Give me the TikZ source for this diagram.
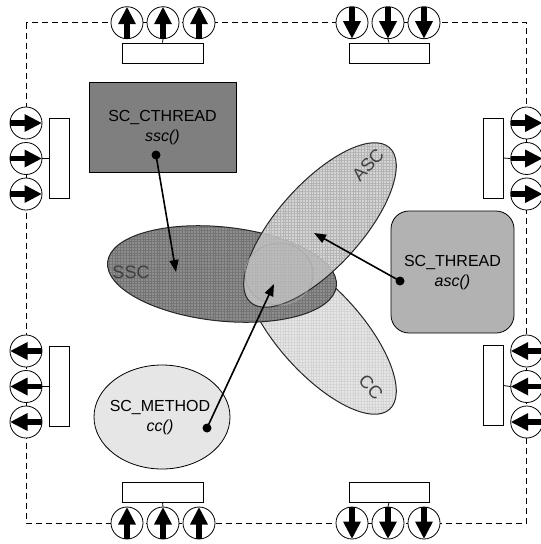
\documentclass[tikz,border=0pt]{standalone}
\usepackage{fontspec}
\setmainfont{Liberation Sans}
\usetikzlibrary{arrows.meta,patterns.meta,shapes.geometric}
\definecolor{cthreadfill}{HTML}{7F7F7F}
\definecolor{threadfill}{HTML}{B2B2B2}
\definecolor{methodfill}{HTML}{E6E6E6}
\definecolor{sscfill}{HTML}{8E8E8E}
\definecolor{sscpat}{HTML}{747474}
\definecolor{ascfill}{HTML}{CACACA}
\definecolor{ascpat}{HTML}{B4B4B4}
\definecolor{ccfill}{HTML}{E6E6E6}
\definecolor{ccpat}{HTML}{D4D4D4}
\definecolor{setlabel}{HTML}{404040}
\newcommand\mkport[4]{%
  \node[portcirc] (#1) at (#2,#3) {};
  \begin{scope}[shift={(#2,#3)},rotate=#4]
    \fill (-2.6,15.8) rectangle (2.6,0);
    \fill (-9,1.5) -- (9,1.5) -- (0,-15.6) -- cycle;
  \end{scope}}
\tikzset{
  portcirc/.style={circle,draw,fill=white,line width=0.8pt,minimum size=32pt,inner sep=0pt},
  portbox/.style={draw,fill=white,line width=0.8pt,inner sep=0pt},
  lbl/.style={font=\fontsize{16}{19.5}\selectfont,align=center,text=black},
  setlbl/.style={font=\fontsize{18}{20}\selectfont,text=setlabel},
  conn/.style={line width=1.6pt,-{Triangle[length=12pt,width=9pt]}},
  grid pat/.style={pattern={Hatch[angle=0,distance=2.8pt,line width=0.3pt]}}
}
\begin{document}
\begin{tikzpicture}[x=1pt,y=-1pt]
\useasboundingbox (0,0) rectangle (541,544);
% border
\draw[line width=0.8pt,dash pattern=on 6pt off 4pt] (26,22.7) rectangle (526.7,523);

% ---- set ellipses ----
\fill[ccfill] (320,332) ellipse[x radius=104,y radius=42,rotate=-48];
\path[grid pat,pattern color=ccpat] (320,332) ellipse[x radius=104,y radius=42,rotate=-48];
\draw[line width=1pt,black!85] (320,332) ellipse[x radius=104,y radius=42,rotate=-48];

\fill[sscfill] (222,274) ellipse[x radius=115,y radius=47,rotate=-6];
\path[grid pat,pattern color=sscpat] (222,274) ellipse[x radius=115,y radius=47,rotate=-6];
\draw[line width=1pt,black!85] (222,274) ellipse[x radius=115,y radius=47,rotate=-6];

\fill[ascfill,fill opacity=0.8] (320,225) ellipse[x radius=104,y radius=42,rotate=48];
\path[grid pat,pattern color=ascpat,fill opacity=0.8] (320,225) ellipse[x radius=104,y radius=42,rotate=48];
\draw[line width=1pt,black!85] (320,225) ellipse[x radius=104,y radius=42,rotate=48];

% inner faint region
\filldraw[draw=black!35,fill=black!30,fill opacity=0.22,line width=0.6pt] (279,274) ellipse[x radius=34,y radius=31];

\node[setlbl] (ssclbl) at (131,272) {SSC};
\node[setlbl,rotate=48] (asclbl) at (368,165) {ASC};
\node[setlbl,rotate=-48] (cclbl) at (371,387) {CC};

% ---- process nodes ----
\node[draw,fill=cthreadfill,line width=0.8pt,minimum width=147pt,minimum height=90pt,inner sep=0pt] (cthread) at (162.5,127) {};
\node[lbl] (cthreadtxt) at (162.5,127.5) {SC\_CTHREAD\\\textit{ssc()}};

\node[draw,fill=threadfill,line width=0.8pt,rounded corners=18pt,minimum width=123pt,minimum height=122pt,inner sep=0pt] (thread) at (452.5,272) {};
\node[lbl] (threadtxt) at (452.5,272.5) {SC\_THREAD\\\textit{asc()}};

\node[draw,fill=methodfill,line width=0.8pt,ellipse,minimum width=136pt,minimum height=104pt,inner sep=0pt] (method) at (162,417) {};
\node[lbl] (methodtxt) at (160,417.5) {SC\_METHOD\\\textit{cc()}};

% ---- connectors ----
\coordinate (cdot) at (156,155);
\coordinate (ctgt) at (176,272);
\coordinate (tdot) at (400,281);
\coordinate (ttgt) at (314,233);
\coordinate (mdot) at (207,428);
\coordinate (mtgt) at (274,284);
\draw[conn] (cdot) -- (ctgt);
\draw[conn] (tdot) -- (ttgt);
\draw[conn] (mdot) -- (mtgt);
\fill (cdot) circle (4.5);
\fill (tdot) circle (4.5);
\fill (mdot) circle (4.5);

% ---- port bundles ----
\node[portbox,minimum width=81pt,minimum height=20pt] (tlbox) at (162.5,53) {};
\node[portbox,minimum width=80pt,minimum height=20pt] (trbox) at (389,53) {};
\node[portbox,minimum width=81pt,minimum height=20pt] (blbox) at (162.5,492) {};
\node[portbox,minimum width=80pt,minimum height=20pt] (brbox) at (389,492) {};
\node[portbox,minimum width=20pt,minimum height=80pt] (ltbox) at (59,158.5) {};
\node[portbox,minimum width=20pt,minimum height=80pt] (lbbox) at (59,386.5) {};
\node[portbox,minimum width=20pt,minimum height=80pt] (rtbox) at (493,158) {};
\node[portbox,minimum width=20pt,minimum height=80pt] (rbbox) at (493,385.5) {};

% top left: up
\mkport{tl1}{127}{22.7}{0}\mkport{tl2}{163}{22.7}{0}\mkport{tl3}{199}{22.7}{0}
% top right: down
\mkport{tr1}{352}{22.7}{180}\mkport{tr2}{388}{22.7}{180}\mkport{tr3}{424}{22.7}{180}
% bottom left: up
\mkport{bl1}{127}{523}{0}\mkport{bl2}{163}{523}{0}\mkport{bl3}{199}{523}{0}
% bottom right: down
\mkport{br1}{352}{523}{180}\mkport{br2}{388}{523}{180}\mkport{br3}{424}{523}{180}
% left top: right
\mkport{lt1}{26}{123}{-90}\mkport{lt2}{26}{158.5}{-90}\mkport{lt3}{26}{194}{-90}
% left bottom: left
\mkport{lb1}{26}{351}{90}\mkport{lb2}{26}{386.5}{90}\mkport{lb3}{26}{422}{90}
% right top: right
\mkport{rt1}{526.7}{123}{-90}\mkport{rt2}{526.7}{158.5}{-90}\mkport{rt3}{526.7}{194}{-90}
% right bottom: left
\mkport{rb1}{526.7}{351}{90}\mkport{rb2}{526.7}{386.5}{90}\mkport{rb3}{526.7}{422}{90}

\draw[line width=0.8pt] (tl2.south) -- (tlbox.north);
\draw[line width=0.8pt] (tr2.south) -- (trbox.north);
\draw[line width=0.8pt] (bl2.north) -- (blbox.south);
\draw[line width=0.8pt] (br2.north) -- (brbox.south);
\draw[line width=0.8pt] (lt2.east) -- (ltbox.west);
\draw[line width=0.8pt] (lb2.east) -- (lbbox.west);
\draw[line width=0.8pt] (rt2.west) -- (rtbox.east);
\draw[line width=0.8pt] (rb2.west) -- (rbbox.east);
\end{tikzpicture}
\end{document}
